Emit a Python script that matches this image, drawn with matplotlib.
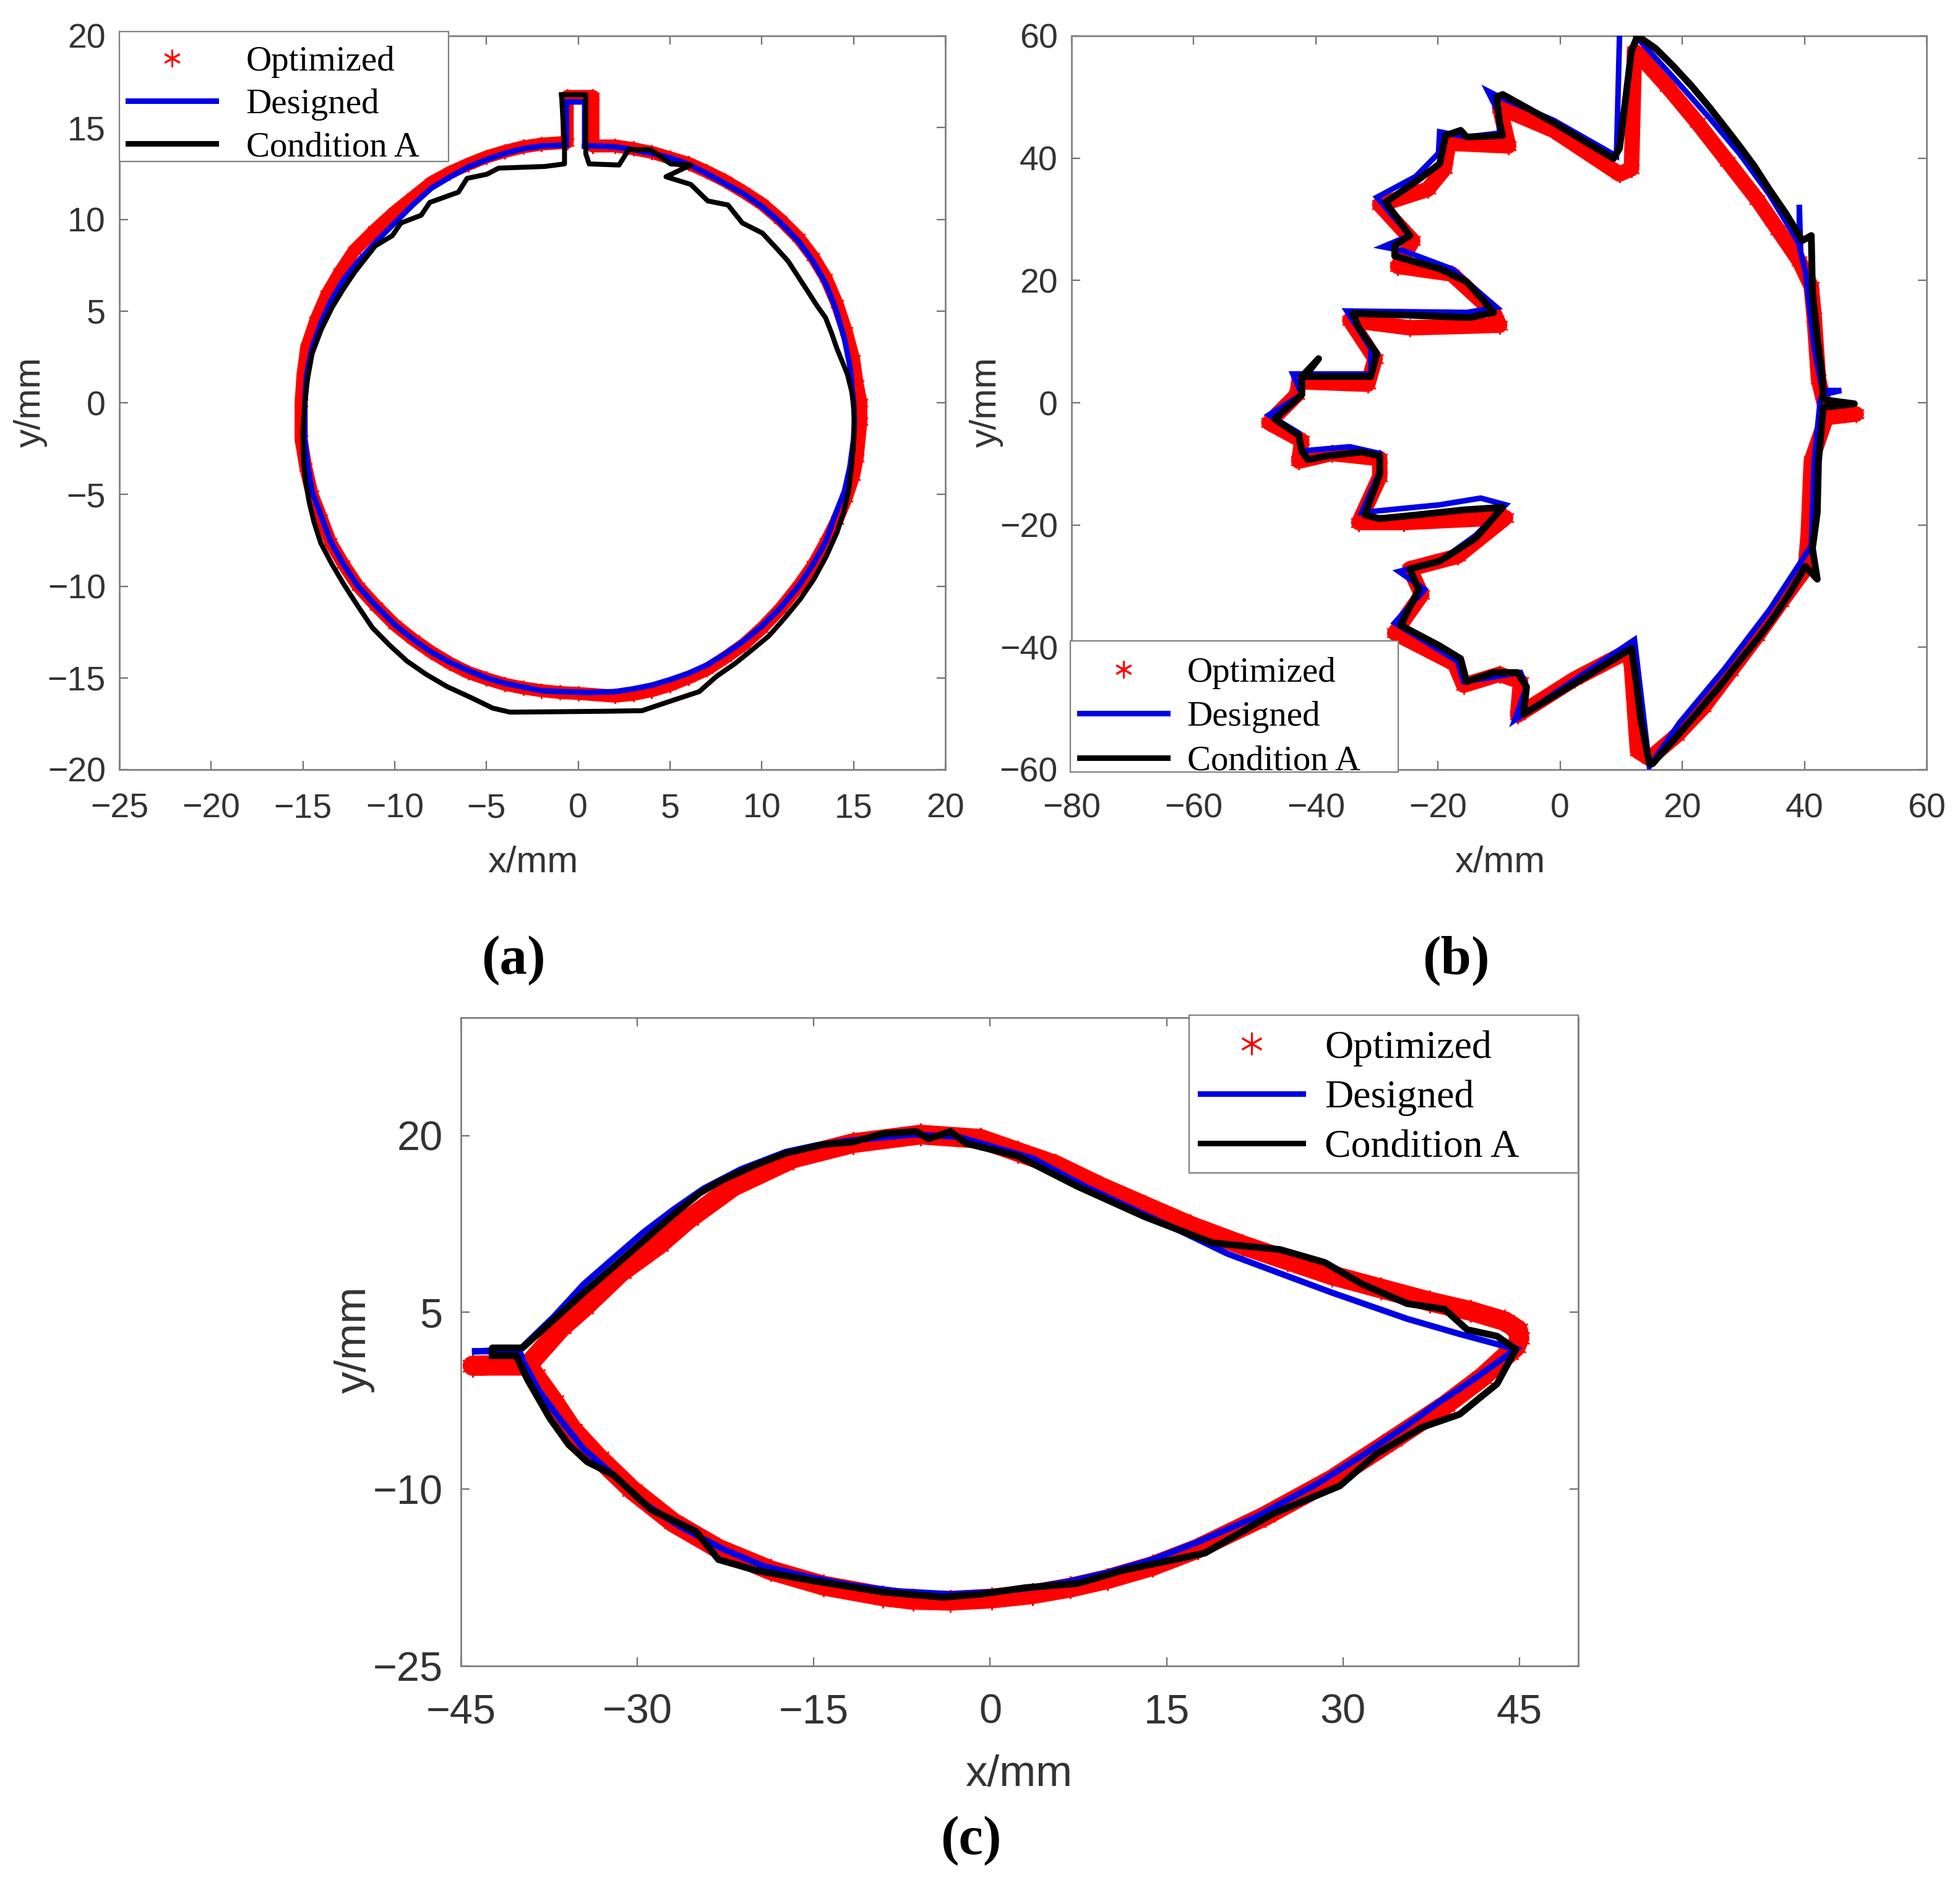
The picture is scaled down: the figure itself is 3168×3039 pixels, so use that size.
import matplotlib
matplotlib.use("Agg")
import matplotlib.pyplot as plt
from matplotlib.lines import Line2D
from matplotlib.patches import Rectangle

W, H = 3168, 3039
RED, BLUE, BLACK = "#ff0000", "#0000e6", "#000000"
STAR = (6, 2, 0)
series_names = ["Optimized", "Designed", "Condition A"]

# ---------- panel (a) ----------
a_designed_x = [0.35, 1, 2, 3, 4, 5, 6, 7, 8, 9, 10, 11, 12, 12.8, 13.5, 14, 14.5, 14.8, 15, 15.05, 15, 14.8, 14.5, 14, 13.5, 12.8, 12, 11, 10, 9, 8, 7, 6, 5, 4, 3, 2, 0.5, -1, -2, -3, -4, -5, -6, -7, -8, -9, -10, -11, -12, -12.8, -13.5, -14, -14.5, -14.75, -14.9, -14.9, -14.8, -14.5, -14, -13.5, -12.8, -12, -11, -10, -9, -8, -7, -6, -5, -4, -3, -2, -0.65, -0.65, 0.35, 0.35]
a_designed_y = [14, 14, 13.95, 13.8, 13.6, 13.35, 13.0, 12.5, 11.95, 11.4, 10.7, 9.85, 8.8, 7.7, 6.45, 5.2, 3.5, 2, 0, -1, -2, -3.5, -4.84, -6.1, -7.54, -8.8, -10, -11.2, -12.18, -13, -13.69, -14.3, -14.75, -15.1, -15.4, -15.6, -15.75, -15.8, -15.75, -15.7, -15.5, -15.3, -15, -14.6, -14.15, -13.6, -12.9, -12.1, -11.1, -10, -8.8, -7.54, -6.2, -4.84, -3.4, -2, 0, 1.5, 3, 4.4, 5.5, 6.7, 7.7, 8.8, 9.8, 10.8, 11.7, 12.3, 12.85, 13.25, 13.6, 13.85, 14, 14.05, 16.4, 16.4, 14]
a_optimized_x = [0.8, 2, 3, 4, 5, 6, 7, 8, 9, 10, 11, 12, 12.8, 13.5, 14.1, 14.6, 15, 15.2, 15.4, 15.4, 15.2, 15, 14.6, 14.1, 13.5, 12.8, 12, 11, 10, 9, 8, 7, 6, 5, 4, 3, 2, 0, -1, -2, -3, -4, -5, -6, -7, -8, -9, -10, -11, -12, -12.8, -13.5, -14, -14.5, -14.85, -15.1, -15.1, -15, -14.8, -14.3, -13.7, -13, -12.2, -11.1, -10, -9, -8, -7, -6, -5, -4, -3, -2, -0.6, -0.6, 0.8, 0.8]
a_optimized_y = [14, 14, 13.85, 13.65, 13.35, 13.05, 12.6, 12.1, 11.5, 10.85, 10, 9, 7.95, 6.8, 5.4, 3.9, 2.4, 1, 0, -1, -3, -4, -5.2, -6.4, -7.6, -8.85, -10, -11.25, -12.3, -13.2, -13.9, -14.55, -15, -15.4, -15.7, -15.9, -16, -15.85, -15.8, -15.7, -15.55, -15.35, -15.05, -14.7, -14.2, -13.6, -12.9, -12.1, -11.1, -10, -8.8, -7.6, -6.3, -5, -3.5, -2, 0, 1.5, 3, 4.5, 5.9, 7.1, 8.3, 9.4, 10.4, 11.2, 12, 12.55, 13, 13.4, 13.7, 13.95, 14.1, 14.2, 16.7, 16.7, 14]
a_cond_x = [-0.91, 0.41, 0.41, 0.59, 2.22, 2.75, 3.94, 5.03, 6.13, 4.78, 6.13, 7.06, 8.16, 8.94, 10.03, 10.81, 11.44, 12.53, 13, 13.47, 13.8, 14.09, 14.4, 14.66, 14.9, 15.03, 15.03, 14.97, 14.87, 14.72, 14.45, 14.09, 13.5, 12.84, 12.1, 11.28, 10.4, 9.41, 8.5, 7.53, 6.59, 4.72, 3.47, 1.59, -3.72, -4.66, -5.9, -7.16, -8.3, -9.34, -10.3, -11.22, -12, -12.78, -13.45, -14.03, -14.4, -14.66, -14.85, -14.97, -15, -14.91, -14.75, -14.5, -14, -13.41, -12.8, -12.16, -11.06, -10.13, -9.66, -8.56, -8.09, -6.53, -6.06, -4.97, -4.34, -1.84, -0.75, -0.75, -0.91]
a_cond_y = [16.79, 16.79, 13.58, 13.02, 12.96, 13.8, 13.8, 13.02, 12.96, 12.32, 11.9, 11.0, 10.78, 9.8, 9.25, 8.41, 7.71, 6.03, 5.3, 4.64, 3.8, 2.96, 2.2, 1.56, 0.6, -0.39, -1.5, -2.63, -3.7, -4.86, -6, -7.09, -8.4, -9.61, -10.7, -11.7, -12.7, -13.52, -14.25, -14.92, -15.75, -16.37, -16.79, -16.82, -16.87, -16.65, -16.05, -15.47, -14.8, -14.08, -13.2, -12.26, -11.1, -9.89, -8.75, -7.65, -6.5, -5.42, -4.3, -3.18, -1.6, -0.11, 1.3, 2.68, 4, 5.2, 6.2, 7.15, 8.55, 9.11, 9.8, 10.22, 10.92, 11.48, 12.23, 12.46, 12.79, 12.88, 13.02, 13.85, 16.79]
a_xticks = [-25, -20, -15, -10, -5, 0, 5, 10, 15, 20]
a_yticks = [-20, -15, -10, -5, 0, 5, 10, 15, 20]

# ---------- panel (b) ----------
b_designed_x = [9.72, 9.22, -1.08, -9.91, -11.87, -10.1, -9.91, -15.31, -19.73, -19.92, -23.65, -30, -24.63, -29.05, -25.6, -17.76, -10.4, -15.3, -34.94, -31, -31, -43.77, -42.3, -47.69, -42.79, -42.3, -34.44, -29.54, -29.54, -32.48, -19.73, -13, -8.93, -13.84, -19.73, -26.4, -22.18, -27.1, -16.78, -15.8, -6.48, -5.5, -7.46, 12.17, 14.62, 19.53, 26.89, 34.25, 41.12, 41.6, 42.59, 43.57, 46.03, 43.08, 41.6, 40.14, 39.16, 39.16, 39.35, 34.25, 29.34, 24.44, 19.53, 12.66]
b_designed_y = [60, 40.35, 46.2, 50, 51, 47.5, 44.1, 43.46, 44.3, 40.8, 37, 33.6, 27.35, 25.5, 24.83, 21.9, 15.6, 14.77, 15, 8.9, 4.7, 4.7, 1.34, -2, -4.95, -7.89, -7.2, -8.3, -11.24, -17.95, -16.7, -15.6, -16.7, -21.7, -25.92, -27.6, -30.54, -36, -42.3, -45.64, -44.13, -46.48, -51.93, -38.76, -59.5, -52.35, -43.54, -33.9, -23.4, -9.56, 0.5, 2, 2, 1.34, 8.9, 21.48, 25.67, 32.38, 25.67, 34.06, 40.77, 46.6, 52.1, 59.65]
b_optimized_x = [12.66, 17.57, 22.47, 27.38, 32.29, 35.72, 39.16, 41.12, 41.6, 42.3, 43.57, 48.48, 43.57, 41.12, 40.63, 40.14, 36.2, 32.29, 27.87, 23.45, 19.04, 14.62, 12.66, 11.68, 11.19, 2.36, -6.97, -6.48, -9.91, -15.8, -17.27, -27.09, -22.67, -24.63, -16.78, -8.93, -25.6, -32.97, -29.54, -29.54, -37.4, -42.79, -42.3, -47.69, -43.08, -42.79, -31.5, -30.3, -34.44, -24.63, -9.91, -10.89, -17.76, -26.6, -24.14, -29.54, -21.68, -18.94, -18.25, -8.44, -9.91, -1.08, 9.72, 11.68, 12.17]
b_optimized_y = [57.13, 51.68, 45.8, 39.5, 33.2, 28.2, 23.15, 19, 13.93, 3.86, -1.5, -1.85, -2.43, -9.56, -21.3, -27.2, -32.6, -38.1, -43.96, -49.83, -54.45, -58.2, -56.96, -43.1, -40.6, -45.2, -51.1, -45.64, -44.4, -46.2, -42.7, -37.67, -31.4, -27.18, -25.1, -18.8, -19.6, -19.6, -12.1, -9.14, -8.3, -9.56, -6.2, -3.27, 1.34, 3.44, 3.02, 7.2, 13.5, 12.25, 12.67, 14.77, 21.06, 22.3, 26.5, 32.38, 34.9, 38.26, 42.45, 42, 48.3, 44.55, 37.4, 38.26, 57.5]
b_cond_x = [12.66, 15.6, 18.55, 21.49, 24.44, 26.89, 29.34, 31.8, 34.25, 37, 39.65, 41.12, 41.31, 42.1, 42.89, 43.08, 48.18, 43.08, 42.3, 42.1, 41.31, 42.1, 40.14, 37.68, 35.23, 32.29, 29.34, 25.91, 22.47, 18.74, 15.11, 14.62, 13.15, 12.46, 11.68, 2.85, -5.99, -5.5, -6.97, -10.89, -15.31, -16.29, -19.73, -26.1, -23.16, -24.63, -19.73, -13.84, -9.42, -15.8, -23.65, -29.54, -31.99, -29.54, -29.54, -32.48, -38.37, -41.31, -42.3, -42.79, -46.71, -42.3, -42.3, -39.55, -41.81, -31.01, -30.03, -32.97, -33.95, -25.61, -14.82, -10.89, -15.31, -19.73, -27.09, -27.09, -24.63, -28.56, -23.65, -19.73, -18.74, -16.29, -15.31, -9.42, -9.91, -10.4, -9.42, -1.08, 8.73, 9.72, 11.68, 12.66]
b_cond_y = [60, 57.97, 55.03, 51.85, 48.32, 45.2, 42.03, 38.7, 34.9, 30.9, 26.51, 27.35, 18.12, 10.57, 4.7, 0.5, -0.17, -0.76, -9.56, -17.95, -23.83, -28.86, -26.76, -30.96, -34.73, -38.67, -42.28, -46.64, -50.67, -55, -59.06, -59.06, -51.51, -45.64, -40.18, -45.64, -50.92, -46.48, -44.13, -44.13, -45.64, -41.86, -39.77, -36.41, -30.54, -27.18, -25.92, -22.15, -17.11, -17.53, -18.37, -18.96, -18.37, -11.66, -8.72, -8.05, -8.72, -9.31, -7.89, -5.37, -2.68, 1.34, 4.28, 7.21, 4.28, 4.28, 8.05, 12.25, 14.6, 14.35, 13.93, 14.77, 19.8, 21.9, 23.99, 25.67, 27.35, 32.8, 36.16, 39.09, 43.71, 44.55, 43.46, 43.71, 45.81, 50, 50.42, 45.81, 39.93, 41.61, 57.55, 60]
b_xticks = [-80, -60, -40, -20, 0, 20, 40, 60]
b_yticks = [-60, -40, -20, 0, 20, 40, 60]

# ---------- panel (c) ----------
c_designed_x = [-43.8, -39.97, -37.11, -34.56, -32.02, -29.47, -26.93, -24.38, -21.2, -17.38, -14.83, -11.65, -6.56, -2.74, 0.45, 3.63, 8.08, 13.18, 16.36, 20.18, 24.63, 29.09, 35.45, 39.91, 44.69, 40.55, 38, 35.45, 31.64, 27.82, 22.72, 17.63, 13.81, 9.99, 6.81, 3.63, 0.13, -3.37, -7.83, -11.65, -15.47, -19.29, -22.79, -26.29, -29.47, -32.02, -34.56, -36.47, -38.38, -39.66, -40.0, -43.8]
c_designed_y = [1.69, 1.87, 4.63, 7.39, 9.6, 11.8, 13.72, 15.49, 17.14, 18.61, 19.16, 19.6, 20.08, 19.9, 18.98, 18.06, 15.67, 13.28, 11.81, 9.97, 8.31, 6.66, 4.45, 3.16, 1.87, -1.07, -2.73, -4.57, -7.14, -9.53, -12.29, -14.5, -15.97, -17.08, -17.81, -18.36, -18.73, -18.91, -18.66, -18.18, -17.44, -16.52, -15.05, -13.21, -11.19, -8.8, -6.59, -4.2, -1.62, 0.77, 1.69, 1.69]
c_optimized_x = [-44.0, -39.34, -36.47, -34.56, -31.38, -28.2, -25.65, -21.83, -16.74, -11.65, -5.92, -0.83, 2.36, 5.54, 9.36, 13.18, 17, 21.45, 25.27, 29.09, 33.23, 37.36, 40.87, 43.73, 44.87, 45, 44.69, 44.05, 41.82, 38.64, 34.18, 29.09, 23.36, 17.63, 13.81, 9.99, 6.81, 3.63, 0.13, -3.37, -6.56, -9.1, -14.19, -18.65, -23.11, -26.93, -30.43, -33.29, -35.52, -37.11, -38.7, -39.34, -44.0]
c_optimized_y = [0.47, 0.47, 3.7, 5.37, 8.4, 10.7, 12.9, 15.67, 18.06, 19.35, 20.08, 19.72, 18.61, 17.51, 15.67, 14.01, 12.36, 10.7, 9.41, 8.13, 7.02, 5.92, 5.11, 4.26, 3.53, 2.79, 2.06, 1.5, -0.52, -2.91, -5.85, -9.16, -12.29, -15.05, -16.52, -17.63, -18.36, -18.91, -19.28, -19.47, -19.39, -19.1, -18.18, -16.89, -15.05, -12.84, -10.08, -7.33, -4.93, -2.54, -0.33, 0.58, 0.47]
c_cond_x = [-42.33, -42.33, -39.78, -34.56, -29.47, -26.93, -24.7, -22.79, -19.92, -17.38, -14.19, -11.65, -9.1, -6.24, -5.28, -3.37, -2.1, 2.36, 7.45, 13.18, 18.9, 24.63, 28.45, 31.64, 35.45, 38.64, 40.55, 43.09, 44.69, 43.09, 39.91, 36.73, 32.91, 29.73, 24, 18.27, 11.27, 7.45, 2.99, -0.83, -4.01, -9.1, -14.83, -19.92, -23.11, -25.02, -28.83, -32.02, -34.25, -35.84, -37.43, -39.34, -40.29, -42.33]
c_cond_y = [1.32, 1.98, 1.98, 6.66, 11.07, 13.28, 15.12, 16.22, 17.51, 18.5, 19.24, 19.46, 20.16, 20.34, 19.72, 20.34, 19.35, 18.25, 15.67, 13.09, 10.89, 10.33, 9.23, 7.39, 5.74, 5.26, 3.53, 2.98, 1.87, -1.07, -3.65, -4.75, -6.96, -9.72, -12.11, -15.42, -16.89, -18, -18.36, -18.91, -19.17, -18.73, -17.81, -16.89, -15.97, -13.58, -11.74, -8.8, -7.69, -6.22, -4.01, -0.7, 1.32, 1.32]
c_xticks = [-45, -30, -15, 0, 15, 30, 45]
c_yticks = [-25, -10, 5, 20]

plt.rcParams["font.family"] = ["Liberation Sans", "DejaVu Sans"]
fig = plt.figure(figsize=(W / 100, H / 100), dpi=100, facecolor="white")
PX = 0.72  # points per pixel at dpi=100


def fx(p):
    return p / W


def fy(p):
    return 1 - p / H


def panel(box, xlim, ylim, xticks, yticks, data, lws, tick_fs, label_fs, xpad, ypad, xlab, ylab,
          legend_box, legend_anchor, legend_fs, handlelen, handlepad, labelspacing, star_ms):
    l, t, r, b = box
    ax = fig.add_axes([fx(l), fy(b), (r - l) / W, (b - t) / H])
    ax.set_xlim(*xlim)
    ax.set_ylim(*ylim)
    ax.set_xticks(xticks)
    ax.set_yticks(yticks)
    ax.tick_params(direction="in", top=True, right=True, length=10, width=1.6,
                   color="#707070", labelcolor="#333333", labelsize=tick_fs)
    ax.tick_params(axis="x", pad=xpad)
    ax.tick_params(axis="y", pad=ypad)
    for s in ax.spines.values():
        s.set_color("#808080")
        s.set_linewidth(2.0)
    ox, oy, dx, dy, cx, cy = data
    ax.plot(ox, oy, color=RED, lw=lws[0] * PX, solid_joinstyle="round", solid_capstyle="round",
            marker=STAR, ms=lws[0] * PX * 1.15, mew=1.6, mec=RED, zorder=2)
    ax.plot(dx, dy, color=BLUE, lw=lws[1] * PX, solid_joinstyle="miter", zorder=3)
    ax.plot(cx, cy, color=BLACK, lw=lws[2] * PX, solid_joinstyle="round", zorder=3.2)

    ax.text((xlab[0] - l) / (r - l), (b - xlab[1]) / (b - t), "x/mm", transform=ax.transAxes,
            ha="center", va="center", fontsize=label_fs, color="#333333", clip_on=False)
    ax.text((ylab[0] - l) / (r - l), (b - ylab[1]) / (b - t), "y/mm", transform=ax.transAxes,
            ha="center", va="center", rotation=90, fontsize=label_fs, color="#333333", clip_on=False)

    lx0, ly0, lx1, ly1 = legend_box
    ax.add_patch(Rectangle((fx(lx0), fy(ly1)), (lx1 - lx0) / W, (ly1 - ly0) / H,
                           transform=fig.transFigure, facecolor="white", edgecolor="#808080",
                           lw=1.6, clip_on=False, zorder=4.5))
    handles = [
        Line2D([], [], ls="none", marker=STAR, ms=star_ms, mew=2.2, color=RED),
        Line2D([], [], color=BLUE, lw=9 * PX),
        Line2D([], [], color=BLACK, lw=9 * PX),
    ]
    leg = ax.legend(handles, series_names, loc="upper left",
                    bbox_to_anchor=(fx(legend_anchor[0]), fy(legend_anchor[1])),
                    bbox_transform=fig.transFigure, frameon=False, borderpad=0, borderaxespad=0,
                    handlelength=handlelen, handletextpad=handlepad,
                    labelspacing=labelspacing, numpoints=1,
                    prop={"family": "Liberation Serif", "size": legend_fs})
    leg.set_zorder(5)
    return ax


panel((193, 58, 1528, 1244), (-25, 20), (-20, 20), a_xticks, a_yticks,
      (a_optimized_x, a_optimized_y, a_designed_x, a_designed_y, a_cond_x, a_cond_y),
      (21, 9, 8), 40, 43, 27, 16, (861, 1394), (49, 650),
      (193, 51, 725, 261), (207, 74), 41, 2.5, 0.85, 0.3, 20)

panel((1732, 58, 3114, 1244), (-80, 60), (-60, 60), b_xticks, b_yticks,
      (b_optimized_x, b_optimized_y, b_designed_x, b_designed_y, b_cond_x, b_cond_y),
      (25, 9, 11), 40, 43, 27, 16, (2424, 1394), (1594, 650),
      (1730, 1036, 2260, 1248), (1745, 1062), 41, 2.5, 0.55, 0.34, 20)

panel((745, 1645, 2551, 2693), (-45, 50), (-25, 30), c_xticks, c_yticks,
      (c_optimized_x, c_optimized_y, c_designed_x, c_designed_y, c_cond_x, c_cond_y),
      (32, 10, 11), 48, 51, 32, 21, (1647, 2869), (573, 2166),
      (1922, 1641, 2551, 1896), (1940, 1665), 46, 2.6, 0.55, 0.34, 26)

for txt, px, py in [("(a)", 830, 1553), ("(b)", 2353, 1553), ("(c)", 1569, 2976)]:
    fig.text(fx(px), fy(py), txt, ha="center", va="center", fontsize=64, fontweight="bold",
             family="Liberation Serif", color="black")

fig.savefig("out.png", dpi=100, facecolor="white")
